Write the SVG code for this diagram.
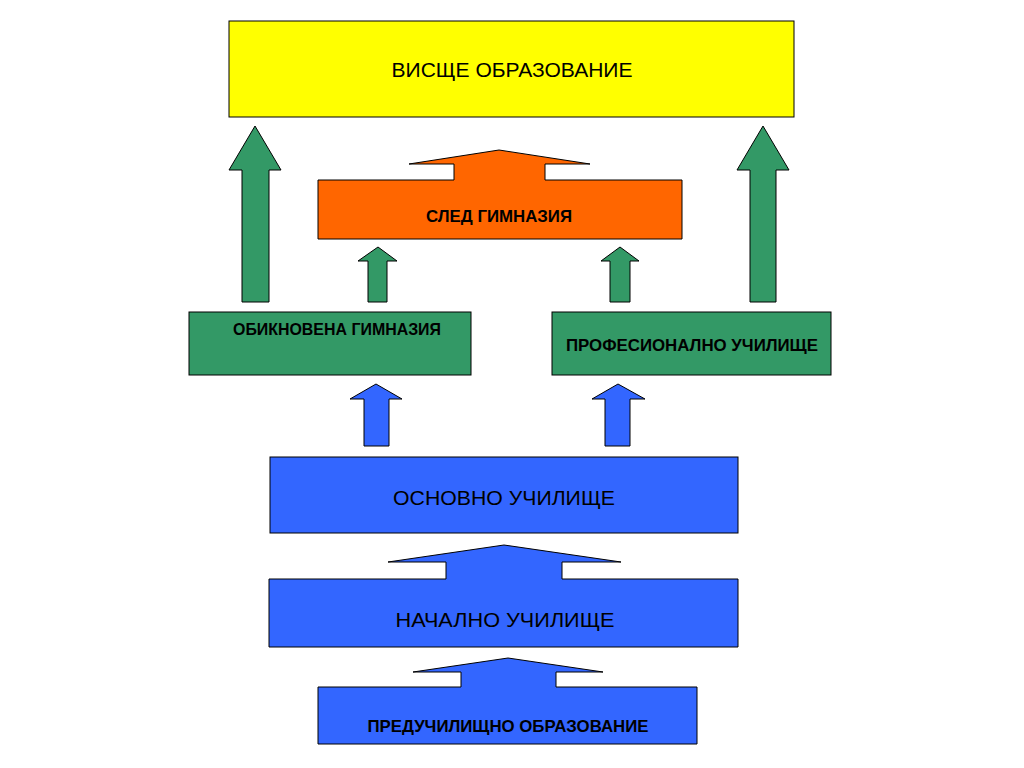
<svg xmlns="http://www.w3.org/2000/svg" width="1024" height="768" viewBox="0 0 1024 768">
<style>
.y{fill:#FFFF00;stroke:#000;stroke-width:1}
.o{fill:#FF6600;stroke:#000;stroke-width:1}
.g{fill:#339966;stroke:#000;stroke-width:1}
.b{fill:#3366FF;stroke:#000;stroke-width:1}
.t{font-family:"Liberation Sans",Arial,sans-serif;font-size:21px;fill:#000;text-anchor:middle}
.tb{font-family:"Liberation Sans",Arial,sans-serif;font-size:17px;font-weight:bold;fill:#000;text-anchor:middle}
</style>
<rect width="1024" height="768" fill="#fff"/>
<g id="connectors">
<polygon class="g" points="255,126 281,170 269,170 269,302 242,302 242,170 229,170"/>
<polygon class="g" points="763,126 789,170 776,170 776,302 750,302 750,170 737,170"/>
<polygon class="g" points="378,247 397,261 387,261 387,302 368,302 368,261 358,261"/>
<polygon class="g" points="620,247 639,261 630,261 630,302 610,302 610,261 601,261"/>
<polygon class="b" points="376,384 402,399 389,399 389,446 364,446 364,399 350,399"/>
<polygon class="b" points="618,384 645,399 630,399 630,446 605,446 605,399 592,399"/>
</g>
<g id="n-higher">
<rect class="y" x="229" y="21" width="565" height="96"/>
<text class="t" x="512" y="77" textLength="241" lengthAdjust="spacingAndGlyphs">ВИСЩЕ ОБРАЗОВАНИЕ</text>
</g>
<g id="n-after">
<path class="o" d="M318,180 L454,180 L454,164 L409,164 L499,150 L590,164 L545,164 L545,180 L682,180 L682,239 L318,239 Z"/>
<text class="tb" x="499" y="222" textLength="146" lengthAdjust="spacingAndGlyphs">СЛЕД ГИМНАЗИЯ</text>
</g>
<g id="n-gym">
<rect class="g" x="189" y="312" width="282" height="63"/>
<text class="tb" x="337" y="335" textLength="208" lengthAdjust="spacingAndGlyphs">ОБИКНОВЕНА ГИМНАЗИЯ</text>
</g>
<g id="n-prof">
<rect class="g" x="552" y="312" width="279" height="63"/>
<text class="tb" x="692" y="351" textLength="252" lengthAdjust="spacingAndGlyphs">ПРОФЕСИОНАЛНО УЧИЛИЩЕ</text>
</g>
<g id="n-basic">
<rect class="b" x="270" y="457" width="468" height="76"/>
<text class="t" x="504" y="505" textLength="222" lengthAdjust="spacingAndGlyphs">ОСНОВНО УЧИЛИЩЕ</text>
</g>
<g id="n-primary">
<path class="b" d="M269,579 L446,579 L446,562 L388,562 L504,545 L621,562 L562,562 L562,579 L738,579 L738,647 L269,647 Z"/>
<text class="t" x="505" y="627" textLength="219" lengthAdjust="spacingAndGlyphs">НАЧАЛНО УЧИЛИЩЕ</text>
</g>
<g id="n-pre">
<path class="b" d="M318,687 L461,687 L461,672 L413,672 L508,658 L603,672 L556,672 L556,687 L697,687 L697,744 L318,744 Z"/>
<text class="tb" x="508" y="732" textLength="281" lengthAdjust="spacingAndGlyphs">ПРЕДУЧИЛИЩНО ОБРАЗОВАНИЕ</text>
</g>
</svg>
